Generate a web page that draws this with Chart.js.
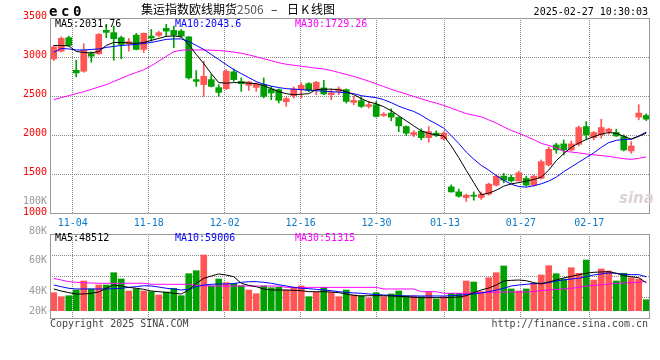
<!DOCTYPE html>
<html><head><meta charset="utf-8">
<script src="https://cdn.jsdelivr.net/npm/chart.js@4.4.1/dist/chart.umd.min.js"></script>
<style>
body{margin:0;background:#fff;}
#wrap{position:relative;width:660px;height:360px;overflow:hidden;background:#fff;font-family:'DejaVu Sans Mono',monospace;}
.t{position:absolute;white-space:pre;font-size:10px;line-height:12px;color:#000;}
.r{text-align:right;}
.cjk{font-family:'Noto Sans CJK SC',sans-serif;font-size:12px;line-height:14px;top:2px;}
canvas{position:absolute;left:0;}
</style></head><body>
<div id="wrap">
<canvas id="vol" width="660" height="140" style="top:220px"></canvas>
<canvas id="main" width="660" height="234" style="top:0px"></canvas>
<div class="t" style="left:49px;top:3px;font-size:14px;line-height:16px;font-weight:bold;letter-spacing:3.6px">ec0</div>
<div class="t cjk" style="left:141px">集运指数欧线期货<span style="color:#555">2506</span></div>
<div class="t cjk" style="left:271px">–</div>
<div class="t cjk" style="left:287px">日<span style="display:inline-block;width:12px;text-align:center">K</span>线图</div>
<div class="t r" style="right:12px;top:5.6px">2025-02-27 10:30:03</div>
<div class="t" id="m5" style="left:55px;top:17.8px"></div>
<div class="t" id="m10" style="left:175px;top:17.8px;color:#0000ff"></div>
<div class="t" id="m30" style="left:295px;top:17.8px;color:#ff00ff"></div>
<div class="t" id="v5" style="left:55px;top:231.6px"></div>
<div class="t" id="v10" style="left:175px;top:231.6px;color:#0000ff"></div>
<div class="t" id="v30" style="left:295px;top:231.6px;color:#ff00ff"></div>
<div class="t" style="left:50px;top:317.6px;color:#444">Copyright 2025 SINA.COM</div>
<div class="t r" style="right:12px;top:317.6px;color:#444">http://finance.sina.com.cn</div>
<div class="t" style="left:619px;top:190px;font-family:'DejaVu Sans',sans-serif;font-size:15px;line-height:16px;font-style:italic;font-weight:bold;color:#dcd2d2">sina</div>
<div id="volAxis"></div>
</div>
<script>
const dates = ['10-30','10-31','11-01','11-04','11-05','11-06','11-07','11-08','11-11','11-12','11-13','11-14','11-15','11-18','11-19','11-20','11-21','11-22','11-25','11-26','11-27','11-28','11-29','12-02','12-03','12-04','12-05','12-06','12-09','12-10','12-11','12-12','12-13','12-16','12-17','12-18','12-19','12-20','12-23','12-24','12-25','12-26','12-27','12-30','12-31','01-02','01-03','01-06','01-07','01-08','01-09','01-10','01-13','01-14','01-15','01-16','01-17','01-20','01-21','01-22','01-23','01-24','01-27','02-05','02-06','02-07','02-10','02-11','02-12','02-13','02-14','02-17','02-18','02-19','02-20','02-21','02-24','02-25','02-26','02-27'];
const dateMarks = ['11-04','11-18','12-02','12-16','12-30','01-13','01-27','02-17'];
const openP = [2977,3077,3249,2833,2821,3044,3044,3342,3313,3249,3172,3282,3099,3269,3278,3368,3342,3333,3259,2714,2650,2714,2612,2599,2813,2692,2641,2615,2650,2595,2586,2432,2509,2586,2663,2586,2608,2522,2564,2586,2423,2445,2372,2394,2257,2287,2231,2115,2013,2056,1974,2031,1958,1346,1282,1210,1240,1210,1253,1368,1483,1467,1423,1454,1368,1454,1625,1881,1894,1817,1890,2115,1974,2009,2051,2039,1987,1804,2236,2257];
const highP = [3150,3259,3269,2962,3172,3069,3304,3419,3397,3269,3240,3304,3310,3355,3333,3419,3397,3355,3265,2830,2949,2778,2650,2842,2851,2736,2692,2672,2736,2628,2595,2492,2621,2672,2676,2692,2705,2595,2621,2595,2500,2492,2436,2436,2295,2342,2240,2124,2064,2086,2115,2060,2051,1372,1317,1253,1282,1282,1394,1496,1518,1496,1547,1483,1496,1689,1855,1903,1945,1932,2124,2179,2051,2210,2095,2082,2009,1923,2394,2278];
const lowP = [2958,3067,3141,2749,2808,2936,3035,3249,2962,2980,3077,3092,3060,3205,3262,3269,3121,3253,2720,2628,2500,2620,2500,2586,2692,2564,2577,2564,2479,2458,2415,2372,2479,2479,2560,2522,2522,2458,2522,2415,2394,2359,2351,2236,2244,2188,2051,2000,1987,1945,1915,1987,1945,1278,1214,1159,1176,1185,1240,1355,1398,1406,1419,1355,1355,1445,1612,1774,1753,1804,1868,1954,1945,1967,2018,1987,1804,1774,2201,2192];
const closeP = [3131,3240,3150,2800,3090,3013,3291,3317,3236,3163,3197,3099,3304,3244,3313,3333,3282,3269,2736,2692,2756,2628,2551,2821,2714,2663,2685,2659,2500,2544,2449,2471,2595,2641,2573,2680,2531,2547,2595,2436,2449,2372,2394,2244,2274,2236,2124,2031,2039,1974,2051,2005,2031,1282,1227,1240,1227,1253,1381,1483,1432,1423,1526,1368,1483,1667,1826,1817,1817,1894,2103,2009,2039,2103,2082,1996,1817,1868,2287,2210];
const ma5 = [3150,3150,3144,3073,3060,3054,3073,3150,3188,3188,3182,3176,3188,3214,3240,3265,3272,3259,3163,3035,2919,2791,2676,2669,2676,2676,2669,2663,2637,2599,2560,2535,2522,2528,2535,2586,2592,2592,2586,2560,2522,2471,2430,2406,2368,2317,2253,2188,2124,2060,2028,2009,1996,1869,1719,1557,1400,1246,1266,1304,1355,1385,1400,1420,1440,1470,1560,1680,1770,1850,1905,1950,1987,2020,2039,2030,1990,1955,1990,2032];
const ma10 = [3061,3112,3105,3092,3092,3099,3105,3125,3137,3150,3156,3163,3176,3188,3208,3227,3233,3233,3201,3150,3099,3035,2971,2906,2842,2791,2740,2689,2656,2631,2612,2599,2592,2586,2580,2573,2567,2560,2554,2548,2535,2509,2496,2484,2458,2420,2375,2340,2308,2260,2200,2150,2095,2000,1900,1790,1700,1620,1560,1490,1430,1380,1350,1342,1360,1385,1420,1470,1540,1600,1660,1720,1780,1850,1910,1940,1950,1955,1995,2044];
const ma30 = [2458,2485,2510,2535,2560,2590,2620,2650,2690,2730,2770,2805,2840,2890,2950,3010,3070,3090,3092,3092,3092,3090,3085,3078,3065,3050,3030,3005,2980,2955,2930,2910,2897,2885,2872,2860,2850,2830,2805,2780,2755,2725,2695,2660,2625,2590,2560,2530,2500,2470,2440,2415,2385,2350,2315,2280,2260,2240,2200,2160,2110,2065,2030,1990,1950,1900,1875,1845,1800,1790,1780,1765,1755,1745,1735,1720,1705,1697,1710,1729];
const volume = [31300,24400,26100,36000,51700,37800,44700,44700,66100,55200,34300,37800,34300,33100,27300,32500,39000,26100,64400,69600,96900,43000,55200,48700,47700,43500,36000,29600,43000,40000,40700,36000,40700,43000,24400,32000,40700,32000,24400,36000,27300,26100,22100,31300,24400,29100,34300,26100,26100,24400,33100,20400,24400,30300,30300,51700,49900,33100,57400,66100,77800,37800,34300,37800,47700,62100,78300,64400,55200,74800,65100,88200,53400,72600,69100,51700,65100,57400,55200,19100];
const volMa5 = [37800,34200,31400,29100,29100,30300,32500,39000,44700,43000,40600,39000,37200,34200,33100,31900,30300,29100,36000,47700,56400,60400,63900,62100,59200,47700,44100,41800,37800,36000,36000,36000,35400,34800,33100,33100,33100,32500,31400,29100,26700,25600,26100,26100,26100,25600,25000,24400,23200,22700,22700,22700,22700,23200,23800,26100,31400,36000,39500,44700,51700,52800,53400,52200,48800,46500,49900,53400,57000,59800,62700,65100,66800,67400,67900,65100,61000,59200,57500,48500];
const volMa10 = [44700,41800,39000,37800,37800,37800,37800,37800,38400,39000,40600,41800,43500,43000,41200,39000,37800,36000,37200,41800,44700,45900,46500,46500,47100,49400,50500,50500,49400,47700,45300,43000,40600,39000,38400,37200,36000,34800,33100,31900,30900,30300,29100,28100,27300,26700,26100,25600,25600,25600,25600,25600,25600,26100,26700,28100,29100,30900,33100,36000,39000,43000,44700,45900,47100,47700,48800,51700,53400,55200,56400,59200,62100,63900,65700,65100,63300,62700,62700,59000];
const volMa30 = [56400,53400,50500,49400,48800,48200,47700,47700,47700,47700,47700,47700,47700,45900,45900,45900,45900,45900,45900,44100,43500,42900,42900,42900,42900,42900,42900,42900,42900,42900,42900,40600,40600,40600,40600,40600,40600,40600,40600,40600,40600,40600,40600,40600,37800,37800,37800,37800,37800,33100,33100,33100,30300,30300,30300,30300,31400,31400,31400,32500,32500,32500,32500,32500,33700,34800,36000,37200,37800,39000,40600,42900,44100,45300,46500,47700,48200,48800,49400,51300];
const priceTicks = [1000,1500,2000,2500,3000,3500];
const maLabels = {m5:'MA5:2031.76', m10:'MA10:2043.6', m30:'MA30:1729.26', v5:'MA5:48512', v10:'MA10:59006', v30:'MA30:51315'};
const volAxisLabels = ['100K','80K','60K','40K','20K'];

for (const k in maLabels) document.getElementById(k).textContent = maLabels[k];
const volLabelY = [194.8, 225.2, 254.2, 284.5, 304.5];
const va = document.getElementById('volAxis');
volAxisLabels.forEach((t,i)=>{const d=document.createElement('div');d.className='t r';d.style.right='613px';d.style.top=volLabelY[i]+'px';d.style.color='#999';d.textContent=t;va.appendChild(d);});

const RED='#ff5555', GREEN='#00a000', GRID='#888888';
const colors = closeP.map((c,i)=> c>=openP[i] ? RED : GREEN);
const markIdx = dates.map((d,i)=> dateMarks.includes(d) ? i : -1).filter(i=>i>=0);
const FONT = {family:'DejaVu Sans Mono', size:10};

// dotted grid drawn from the chart's own scales (y ticks + marked date ticks), one dot every 2px
function drawDots(c){
  const a=c.chartArea, ctx=c.ctx, ys=c.scales.y, xs=c.scales.xd;
  const L=Math.round(a.left), R=Math.round(a.right), T=Math.round(a.top), B=Math.round(a.bottom);
  ctx.save(); ctx.globalAlpha=1; ctx.fillStyle=GRID;
  ys.ticks.forEach(t=>{const y=Math.floor(ys.getPixelForValue(t.value));
    if(y<=T+1||y>=B-2) return;
    for(let x=L;x<R;x+=2) ctx.fillRect(x,y,1,1);});
  markIdx.forEach(i=>{const x=Math.floor(xs.getPixelForValue(i));
    for(let y=T;y<B;y+=2) ctx.fillRect(x,y,1,1);});
  ctx.restore();
}
const dotGrid = {id:'dotGrid', beforeDatasetsDraw(c){ drawDots(c); }};
const boxPlugin = {id:'box', afterDraw(c){const a=c.chartArea,x=c.ctx;x.save();x.setLineDash([]);x.strokeStyle='#999';x.lineWidth=1;x.strokeRect(Math.round(a.left)+0.5,Math.round(a.top)+0.5,Math.round(a.right-a.left)-1,Math.round(a.bottom-a.top)-1);x.restore();}};
const lineDs = (data,color)=>({type:'line',data,borderColor:color,borderWidth:1,pointRadius:0,tension:0,order:0,xAxisID:'x',yAxisID:'y'});
const noGrid = {display:false, drawTicks:false, drawOnChartArea:false};
const noBorder = {display:false};

Chart.defaults.font.family = 'DejaVu Sans Mono';

new Chart(document.getElementById('main'), {
  type:'bar',
  data:{labels:dates, datasets:[
    lineDs(ma5,'#000000'), lineDs(ma10,'#0000ff'), lineDs(ma30,'#ff00ff'),
    {type:'bar',data:dates.map((d,i)=>[lowP[i],highP[i]]),backgroundColor:colors,barThickness:1,grouped:false,order:2,xAxisID:'x',yAxisID:'y'},
    {type:'bar',data:dates.map((d,i)=>[openP[i],closeP[i]]),backgroundColor:colors,barThickness:6,grouped:false,minBarLength:1,order:1,xAxisID:'x',yAxisID:'y'}
  ]},
  options:{
    responsive:false, animation:false, devicePixelRatio:1,
    layout:{padding:{top:18,right:10,left:0,bottom:2}},
    plugins:{legend:{display:false},tooltip:{enabled:false}},
    scales:{
      x:{type:'category',labels:dates,display:false,offset:true},
      xd:{type:'category',labels:dates,offset:false,position:'bottom',
        grid:noGrid, border:noBorder,
        ticks:{autoSkip:false,maxRotation:0,minRotation:0,padding:3,color:'#0a78c8',font:FONT,
          callback:(v,i)=> dateMarks.includes(dates[i]) ? dates[i] : ''},
        afterFit:s=>{s.height=18;}},
      y:{type:'linear',position:'left',min:1000,max:3500,
        afterBuildTicks:s=>{s.ticks=priceTicks.map(v=>({value:v}));},
        grid:noGrid, border:noBorder,
        ticks:{color:'#ff0000',padding:3,labelOffset:-2,font:FONT,callback:v=>String(v)},
        afterFit:s=>{s.width=50;}}
    }
  },
  plugins:[dotGrid, boxPlugin]
});

const VMIN=-14440, VMAX=133460;
new Chart(document.getElementById('vol'), {
  type:'bar',
  data:{labels:dates, datasets:[
    lineDs(volMa5,'#000000'), lineDs(volMa10,'#0000ff'), lineDs(volMa30,'#ff00ff'),
    {type:'bar',data:volume,backgroundColor:colors,barThickness:6,grouped:false,order:1,xAxisID:'x',yAxisID:'y'}
  ]},
  options:{
    responsive:false, animation:false, devicePixelRatio:1,
    layout:{padding:{top:14,right:10,left:0,bottom:41}},
    plugins:{legend:{display:false},tooltip:{enabled:false}},
    scales:{
      x:{type:'category',labels:dates,display:false,offset:true},
      xd:{type:'category',labels:dates,offset:false,position:'bottom',
        grid:noGrid, border:noBorder,
        ticks:{display:false},
        afterFit:s=>{s.height=0;}},
      y:{type:'linear',position:'left',min:VMIN,max:VMAX,
        afterBuildTicks:s=>{const q=(VMAX-VMIN)/4;s.ticks=[0,1,2,3,4].map(j=>({value:VMIN+q*j}));},
        grid:noGrid, border:noBorder,
        ticks:{display:false},
        afterFit:s=>{s.width=50;}}
    }
  },
  plugins:[dotGrid, boxPlugin]
});
</script>
</body></html>
